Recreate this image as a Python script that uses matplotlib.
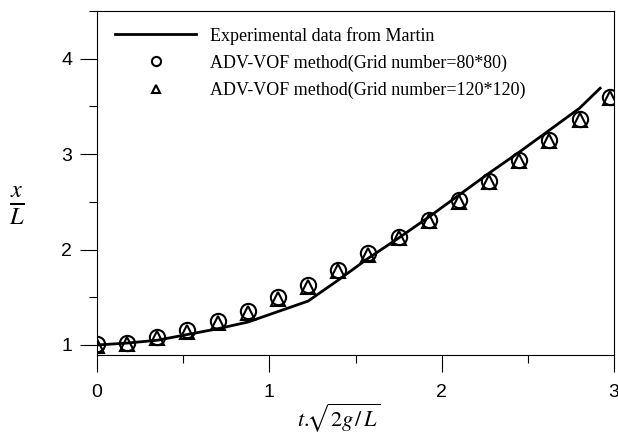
import matplotlib
matplotlib.use("Agg")
import matplotlib.pyplot as plt
from matplotlib.ticker import MultipleLocator

plt.rcParams["mathtext.fontset"] = "stix"

# experimental curve (Martin)
t_exp = [0.0, 0.175, 0.35, 0.525, 0.7, 0.875, 1.05, 1.225, 1.4, 1.575,
         1.75, 1.925, 2.1, 2.275, 2.45, 2.625, 2.8, 2.92]
x_exp = [1.0, 1.02, 1.05, 1.11, 1.17, 1.24, 1.35, 1.46, 1.68, 1.91,
         2.12, 2.34, 2.57, 2.80, 3.02, 3.25, 3.48, 3.69]

# ADV-VOF results
t_sim = [0.0, 0.175, 0.35, 0.525, 0.7, 0.875, 1.05, 1.225, 1.4, 1.575,
         1.75, 1.925, 2.1, 2.275, 2.45, 2.625, 2.8, 2.975]
x_80 = [1.01, 1.02, 1.08, 1.16, 1.25, 1.36, 1.50, 1.63, 1.79, 1.96,
        2.13, 2.31, 2.52, 2.72, 2.94, 3.15, 3.37, 3.60]
x_120 = [0.99, 1.01, 1.07, 1.14, 1.23, 1.34, 1.48, 1.61, 1.78, 1.94,
         2.12, 2.30, 2.50, 2.71, 2.93, 3.14, 3.36, 3.59]

labels = ["Experimental data from Martin",
          "ADV-VOF method(Grid number=80*80)",
          "ADV-VOF method(Grid number=120*120)"]

fig = plt.figure(figsize=(6.18, 4.34), dpi=100)
ax = fig.add_axes([0.157, 0.182, 0.8365, 0.793])

ax.plot(t_exp, x_exp, color="black", lw=2.0, label=labels[0])
ax.plot(t_sim, x_80, ls="none", marker="o", ms=11, mfc="none", mec="black",
        mew=1.5, label=labels[1])
ax.plot(t_sim, x_120, ls="none", marker="^", ms=10, mfc="none", mec="black",
        mew=1.5, label=labels[2])

ax.set_xlim(0, 3)
ax.set_ylim(0.895, 4.5)
ax.xaxis.set_major_locator(MultipleLocator(1))
ax.xaxis.set_minor_locator(MultipleLocator(0.5))
ax.yaxis.set_major_locator(MultipleLocator(1))
ax.yaxis.set_minor_locator(MultipleLocator(0.5))
ax.tick_params(which="major", direction="out", length=12, width=0.8,
               labelsize=14)
ax.tick_params(which="minor", direction="out", length=6, width=0.8)
ax.tick_params(axis="x", which="major", pad=9)
ax.tick_params(axis="y", which="major", pad=6)
for lab in ax.get_xticklabels() + ax.get_yticklabels():
    lab.set_family("Liberation Sans")
for sp in ax.spines.values():
    sp.set_linewidth(0.8)

ax.set_xlabel(r"$t.\!\!\sqrt{2g\,/\,L}$", fontsize=16, va="center")
ax.xaxis.set_label_coords(0.468, -0.183)
ax.set_ylabel(r"$\frac{x}{L}$", fontsize=25, rotation=0, va="center",
              ha="center")
ax.yaxis.set_label_coords(-0.155, 0.435)

leg = ax.legend(loc="upper left", bbox_to_anchor=(0.021, 0.975),
                borderaxespad=0, frameon=False, handlelength=4.5,
                handletextpad=0.75, labelspacing=0.55, markerscale=0.6,
                prop={"family": "Liberation Serif", "size": 13})

fig.savefig("out.png", dpi=100)
